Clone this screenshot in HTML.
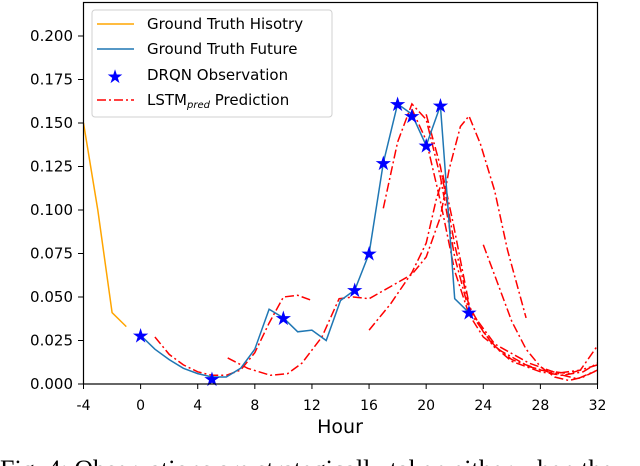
<!DOCTYPE html>
<html><head><meta charset="utf-8"><style>
html,body{margin:0;padding:0;background:#fff;width:640px;height:466px;overflow:hidden}
svg text{font-family:"DejaVu Sans","Liberation Sans",sans-serif;fill:#000}
</style></head><body>
<svg id="chart" width="640" height="466" viewBox="0 0 640 466" xmlns="http://www.w3.org/2000/svg">
<g id="plot"></g>
<rect x="83.5" y="2.5" width="514" height="381.5" fill="none" stroke="#000" stroke-width="1.2"/>
<g id="axes"></g>
<text x="340" y="433" font-size="19" text-anchor="middle">Hour</text>
<g>
<rect x="92" y="10" width="240" height="107" rx="3" fill="#fff" fill-opacity="0.85" stroke="#d0d0d0"/>
<line x1="97" y1="24" x2="134" y2="24" stroke="#ffa500" stroke-width="1.5"/>
<text x="147" y="29" font-size="15">Ground Truth Hisotry</text>
<line x1="97" y1="49" x2="134" y2="49" stroke="#1f77b4" stroke-width="1.5"/>
<text x="147" y="54" font-size="15">Ground Truth Future</text>
<text x="115" y="83" font-size="19" text-anchor="middle" style="fill:#0000ff">★</text>
<text x="147" y="80" font-size="15">DRQN Observation</text>
<line x1="97" y1="100" x2="134" y2="100" stroke="#ff0000" stroke-width="1.5" stroke-dasharray="9,3,2,3"/>
<text x="147" y="105" font-size="15">LSTM<tspan font-size="10" font-style="italic" dy="3">pred</tspan><tspan dy="-3"> Prediction</tspan></text>
</g>
<text x="0" y="478" font-size="26" style="font-family:'Liberation Serif',serif">Fig. 4: Observations are strategically taken either when the</text>
</svg>
<script>
const historyHours=[-4,-3,-2,-1];
const historyValues=[0.150,0.100,0.041,0.033];
const futureHours=[0,1,2,3,4,5,6,7,8,9,10,11,12,13,14,15,16,17,18,19,20,21,22,23];
const futureValues=[0.028,0.020,0.014,0.009,0.006,0.004,0.004,0.009,0.020,0.043,0.038,0.030,0.031,0.025,0.048,0.054,0.075,0.127,0.161,0.155,0.137,0.160,0.049,0.041];
const obsHours=[0,5,10,15,16,17,18,19,20,21,23];
const obsValues=[0.028,0.003,0.038,0.054,0.075,0.127,0.161,0.154,0.137,0.160,0.041];
const predA=[[1,0.027],[2,0.017],[3,0.011],[4,0.007],[5,0.005],[6,0.005],[7,0.008],[8,0.018],[9,0.035],[10,0.050],[11,0.051],[12,0.048]];
const predB=[[6.1,0.015],[7.5,0.009],[9.1,0.005],[10.3,0.006],[11.3,0.012],[12.7,0.027],[13.9,0.049],[14.9,0.050],[16,0.049],[17.5,0.056],[19,0.063],[20,0.073],[21,0.096],[21.6,0.123],[22.4,0.148],[23,0.154],[23.8,0.138],[24.8,0.111],[25.7,0.077],[27,0.038]];
const predC=[[16,0.031],[17.5,0.046],[19,0.064],[20,0.081],[20.7,0.106],[21.2,0.119],[21.9,0.092],[23.1,0.042],[24.8,0.023],[27.2,0.012],[29.6,0.005],[30.6,0.003],[32,0.008]];
const predD=[[17,0.101],[18,0.139],[19,0.161],[20,0.152],[21,0.119],[22,0.073],[23,0.042],[24.8,0.021],[27.2,0.010],[29,0.006],[30.8,0.008],[32,0.022]];
const predE=[[24,0.080],[25,0.058],[26,0.036],[27,0.020],[28,0.010],[29,0.004],[30,0.002],[31,0.004],[32,0.008]];
const predF=[[20,0.155],[21,0.125],[22,0.080],[23,0.045],[24,0.030],[25,0.020],[26,0.013],[28,0.007],[29.5,0.005],[31,0.007],[32,0.012]];
const predG=[[19,0.158],[20,0.140],[21,0.105],[22,0.065],[23,0.040],[24,0.027],[26,0.014],[28,0.008],[30,0.006],[32,0.011]];
const predictions=[predA,predB,predC,predD,predE,predF,predG];
const xTicks=[-4,0,4,8,12,16,20,24,28,32];
const yTicks=[0,0.025,0.05,0.075,0.1,0.125,0.15,0.175,0.2];
const yTickLabels=["0.000","0.025","0.050","0.075","0.100","0.125","0.150","0.175","0.200"];

const NS="http://www.w3.org/2000/svg";
const X=h=>83.5+(h+4)*514/36;
const Y=v=>384-v*1740;
const plot=document.getElementById('plot'), axes=document.getElementById('axes');
function mk(t,a,p){const e=document.createElementNS(NS,t);for(const k in a)e.setAttribute(k,a[k]);p.appendChild(e);return e;}
function pts(hs,vs){return hs.map((h,i)=>X(h).toFixed(1)+','+Y(vs[i]).toFixed(1)).join(' ');}

predictions.forEach((p,i)=>{
  const e=mk('polyline',{points:pts(p.map(d=>d[0]),p.map(d=>d[1])),fill:'none',stroke:'#ff0000','stroke-width':1.5,'stroke-dasharray':'9,3,2,3'},plot);
  
  
});
const hl=mk('polyline',{points:pts(historyHours,historyValues),fill:'none',stroke:'#ffa500','stroke-width':1.5},plot);


const fl=mk('polyline',{points:pts(futureHours,futureValues),fill:'none',stroke:'#1f77b4','stroke-width':1.5},plot);


obsHours.forEach((h,i)=>{
  const t=mk('text',{x:X(h),y:Y(obsValues[i])+7,'font-size':20,'text-anchor':'middle',style:'fill:#0000ff'},plot);
  t.textContent='★';
  
  
});
xTicks.forEach(h=>{
  const l=mk('line',{x1:X(h),x2:X(h),y1:384,y2:389,stroke:'#000'},axes);
  
  
  const t=mk('text',{x:X(h),y:410,'font-size':14,'text-anchor':'middle'},axes);
  t.textContent=String(h);
  
  
});
yTicks.forEach((v,i)=>{
  const l=mk('line',{x1:78,x2:83.5,y1:Y(v),y2:Y(v),stroke:'#000'},axes);
  
  
  const t=mk('text',{x:73,y:Y(v)+5,'font-size':15,'text-anchor':'end'},axes);
  t.textContent=yTickLabels[i];
  
  
});
</script>
</body></html>
